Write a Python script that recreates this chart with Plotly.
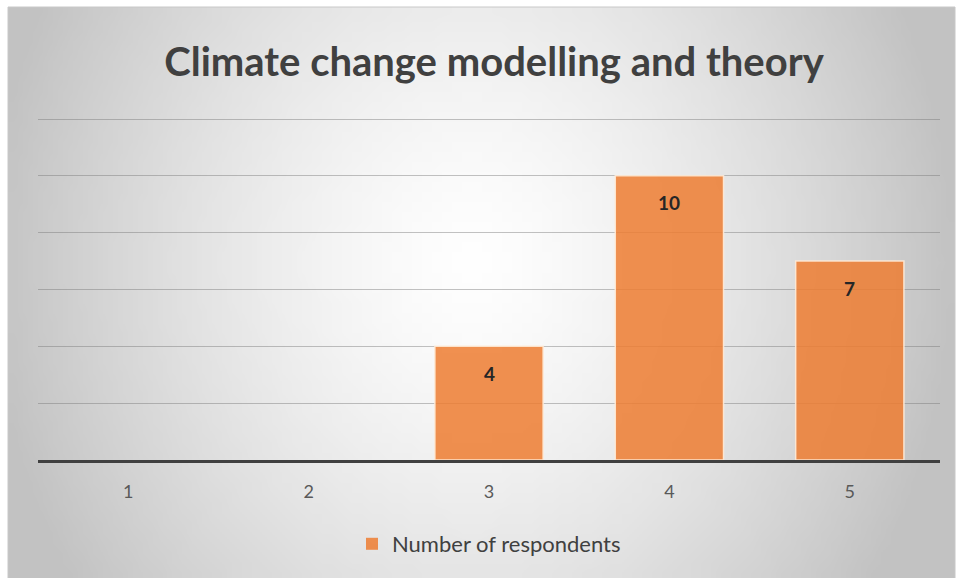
import base64, struct, zlib, math
import plotly.graph_objects as go

categories = ["1", "2", "3", "4", "5"]
respondents = [0, 0, 4, 10, 7]
series_name = "Number of respondents"
title_text = "Climate change modelling and theory"


def radial_png(w, h, cx, cy, rx, ry):
    rows = []
    for j in range(h):
        row = bytearray([0])
        for i in range(w):
            d = math.hypot((i - cx) / rx, (j - cy) / ry)
            v = int(max(194, min(255, 255 - 58 * d ** 1.4)))
            row += bytes([v, v, v])
        rows.append(bytes(row))
    raw = b"".join(rows)

    def chunk(t, data):
        c = struct.pack(">I", len(data)) + t + data
        return c + struct.pack(">I", zlib.crc32(t + data) & 0xFFFFFFFF)

    png = b"\x89PNG\r\n\x1a\n"
    png += chunk(b"IHDR", struct.pack(">IIBBBBB", w, h, 8, 2, 0, 0, 0))
    png += chunk(b"IDAT", zlib.compress(raw, 9))
    png += chunk(b"IEND", b"")
    return "data:image/png;base64," + base64.b64encode(png).decode()


W, H = 95, 57
bg = radial_png(W, H, 46, 25, 47, 56)

L, R, T, B = 38, 19, 113, 118
pw, ph = 959 - L - R, 578 - T - B
unit = 341 / 12.0
ytop = ph / unit

fig = go.Figure()
fig.add_trace(go.Bar(
    x=categories, y=respondents, name=series_name,
    marker=dict(color="rgba(237,125,49,0.85)",
                line=dict(color="rgba(255,235,215,0.9)",
                          width=[1.5 if v > 0 else 0 for v in respondents])),
    showlegend=True, hoverinfo="skip",
))

for i, v in enumerate(respondents):
    if v > 0:
        fig.add_annotation(x=i, y=v, text="<b>%d</b>" % v, showarrow=False,
                           yshift=-27, font=dict(family="Lato", size=19, color="#262626"))

base_y = 578 - B
fig.add_layout_image(dict(
    source=bg, xref="paper", yref="paper",
    x=(8 - L) / pw, y=(base_y - 7) / ph, sizex=947 / pw, sizey=571 / ph,
    xanchor="left", yanchor="top", sizing="stretch", layer="below",
))

fig.add_shape(type="rect", xref="paper", yref="paper",
              x0=(8 - L) / pw, x1=(955 - L) / pw, y0=(base_y - 580) / ph, y1=(base_y - 7) / ph,
              line=dict(color="#c8c8c8", width=1), layer="below")

fig.update_layout(
    width=959, height=578,
    margin=dict(l=L, r=R, t=T, b=B),
    paper_bgcolor="white", plot_bgcolor="rgba(0,0,0,0)",
    title=dict(text="<b>%s</b>" % title_text, x=494 / 959, xanchor="center", xref="container",
               y=1 - 62 / 578, yanchor="middle",
               font=dict(family="Lato", size=40, color="#404040")),
    bargap=0.4,
    xaxis=dict(type="category", showgrid=False, showline=True, linecolor="#404040", linewidth=3,
               tickfont=dict(family="Lato", size=18, color="#595959"),
               ticks="", ticklabelstandoff=13),
    yaxis=dict(range=[0, ytop], tickvals=[2, 4, 6, 8, 10, 12], showticklabels=False, showgrid=True,
               gridcolor="rgba(120,120,120,0.45)", gridwidth=1, zeroline=False, showline=False),
    legend=dict(orientation="h", x=0.5, xanchor="center", y=(base_y - 544) / ph, yanchor="middle",
                font=dict(family="Lato", size=22, color="#404040"),
                bgcolor="rgba(0,0,0,0)", itemwidth=30),
)

fig.write_html("out.html", config={"displayModeBar": False},
               post_script="document.body.style.margin='0';document.body.style.padding='0';")
